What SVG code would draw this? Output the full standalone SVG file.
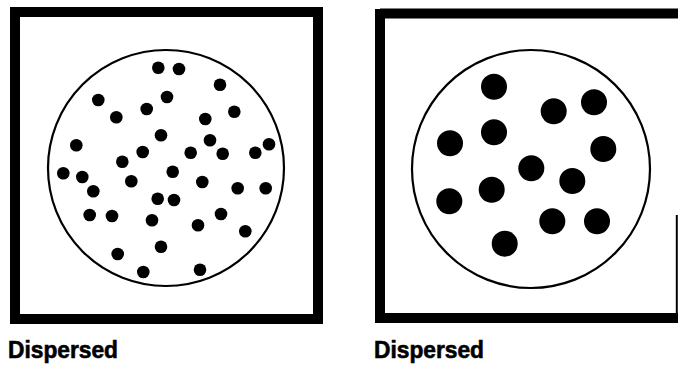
<svg xmlns="http://www.w3.org/2000/svg" width="678" height="368" viewBox="0 0 678 368">
<style>
.frame{fill:none;stroke:#000;stroke-width:10}
.ring{fill:none;stroke:#000;stroke-width:2.2}
.s{fill:#000}
.label{font-family:"Liberation Sans",Arial,sans-serif;font-weight:bold;font-size:23.5px;fill:#000;stroke:#000;stroke-width:0.6}
</style>
<rect width="678" height="368" fill="#fff"/>
<g id="panel-left">
<rect class="frame" x="15" y="12" width="303" height="307"/>
<circle class="ring" cx="166" cy="168" r="118"/>
<g class="s">
<circle cx="158.3" cy="67.7" r="6.3"/>
<circle cx="179" cy="69" r="6.3"/>
<circle cx="220" cy="84.7" r="6.3"/>
<circle cx="98.3" cy="100" r="6.3"/>
<circle cx="167" cy="97" r="6.3"/>
<circle cx="146.7" cy="109" r="6.3"/>
<circle cx="116.3" cy="117.3" r="6.3"/>
<circle cx="234.3" cy="111.7" r="6.3"/>
<circle cx="205.3" cy="119" r="6.3"/>
<circle cx="161" cy="135.3" r="6.3"/>
<circle cx="210" cy="140.3" r="6.3"/>
<circle cx="76.3" cy="145.3" r="6.3"/>
<circle cx="142.7" cy="152" r="6.3"/>
<circle cx="190.7" cy="152.7" r="6.3"/>
<circle cx="222.7" cy="153.7" r="6.3"/>
<circle cx="255.3" cy="152.7" r="6.3"/>
<circle cx="269" cy="144.3" r="6.3"/>
<circle cx="122.3" cy="161.7" r="6.3"/>
<circle cx="63.3" cy="173.3" r="6.3"/>
<circle cx="82.3" cy="177" r="6.3"/>
<circle cx="172.7" cy="171.7" r="6.3"/>
<circle cx="131.3" cy="181.3" r="6.3"/>
<circle cx="202.3" cy="182" r="6.3"/>
<circle cx="93.3" cy="191.3" r="6.3"/>
<circle cx="237.7" cy="188.3" r="6.3"/>
<circle cx="265.7" cy="188.3" r="6.3"/>
<circle cx="157.7" cy="198.7" r="6.3"/>
<circle cx="174" cy="200" r="6.3"/>
<circle cx="89.7" cy="215" r="6.3"/>
<circle cx="112" cy="216" r="6.3"/>
<circle cx="221" cy="214" r="6.3"/>
<circle cx="152" cy="220.3" r="6.3"/>
<circle cx="198" cy="225.3" r="6.3"/>
<circle cx="245.3" cy="231.3" r="6.3"/>
<circle cx="161" cy="246.7" r="6.3"/>
<circle cx="117.7" cy="254" r="6.3"/>
<circle cx="143.3" cy="272" r="6.3"/>
<circle cx="200" cy="269.7" r="6.3"/>
</g>
<text class="label" x="8" y="358" textLength="110" lengthAdjust="spacingAndGlyphs">Dispersed</text>
</g>
<g id="panel-right">
<path d="M380 13.5H678M380 9V323M375 318H678" fill="none" stroke="#000" stroke-width="10"/>
<path d="M676.8 215V318" fill="none" stroke="#000" stroke-width="2"/>
<circle class="ring" cx="531" cy="169" r="119"/>
<g class="s">
<circle cx="494" cy="86.7" r="13"/>
<circle cx="553.7" cy="111.3" r="13"/>
<circle cx="594" cy="102.3" r="13"/>
<circle cx="494" cy="132.3" r="13"/>
<circle cx="450" cy="143.3" r="13"/>
<circle cx="603.3" cy="149" r="13"/>
<circle cx="531.3" cy="168.3" r="13"/>
<circle cx="572.3" cy="181" r="13"/>
<circle cx="491.7" cy="189.7" r="13"/>
<circle cx="449.3" cy="201.3" r="13"/>
<circle cx="552.3" cy="221.3" r="13"/>
<circle cx="597" cy="221.3" r="13"/>
<circle cx="504.7" cy="243.7" r="13"/>
</g>
<text class="label" x="374" y="358" textLength="110" lengthAdjust="spacingAndGlyphs">Dispersed</text>
</g>
</svg>
